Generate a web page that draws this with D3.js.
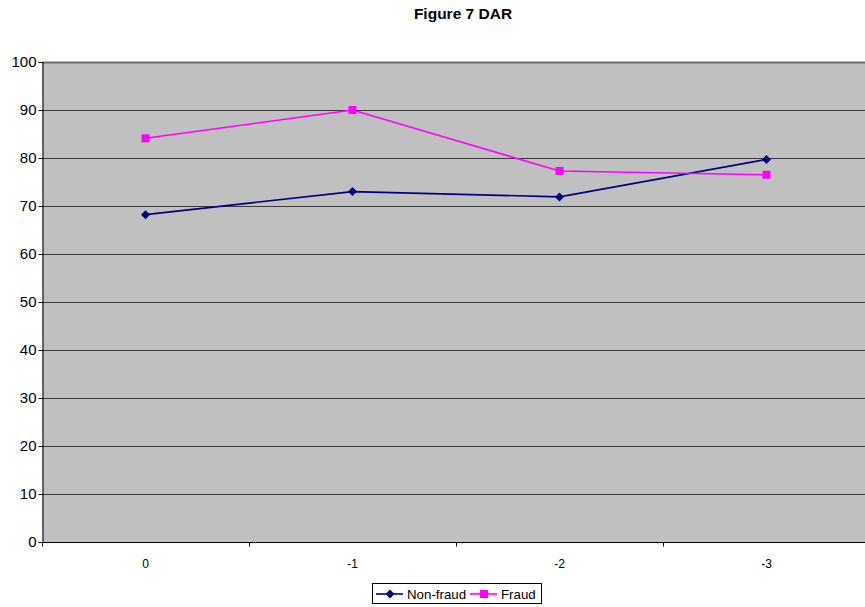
<!DOCTYPE html>
<html>
<head>
<meta charset="utf-8">
<script src="https://cdn.jsdelivr.net/npm/d3@7/dist/d3.min.js"></script>
<style>
  html, body { margin: 0; padding: 0; background: #fff; }
  svg { display: block; font-family: "Liberation Sans", Arial, sans-serif; }
  svg text { font-family: "Liberation Sans", Arial, sans-serif; }
</style>
</head>
<body>
<svg id="chart" width="865" height="607"></svg>
<script>
// Years relative to the fraud year
const categories = ["0", "-1", "-2", "-3"];
const nonFraud = [68.2, 73.0, 71.9, 79.7];
const fraud = [84.1, 90.0, 77.3, 76.5];
const yTicks = [0, 10, 20, 30, 40, 50, 60, 70, 80, 90, 100];
const seriesNames = ["Non-fraud", "Fraud"];

const svg = d3.select("#chart");
const plot = { left: 42, top: 62, right: 870, bottom: 542 };

const x = d3.scaleBand().domain(categories).range([plot.left, plot.right]);
const y = d3.scaleLinear().domain([0, 100]).range([plot.bottom, plot.top]);

// Title
svg.append("text")
  .attr("x", 463).attr("y", 19)
  .attr("text-anchor", "middle")
  .attr("font-size", 15.5).attr("font-weight", "bold")
  .text("Figure 7 DAR");

// Plot background
svg.append("rect")
  .attr("x", plot.left).attr("y", plot.top)
  .attr("width", plot.right - plot.left).attr("height", plot.bottom - plot.top)
  .attr("fill", "#c0c0c0");

// Horizontal gridlines
svg.append("g").selectAll("line").data(yTicks.filter(d => d > 0)).join("line")
  .attr("x1", plot.left).attr("x2", plot.right)
  .attr("y1", d => Math.round(y(d)) + 0.5).attr("y2", d => Math.round(y(d)) + 0.5)
  .attr("stroke", d => d === 100 ? "#6e6e6e" : "#3a3a3a")
  .attr("stroke-width", d => d === 100 ? 2 : 1);

// Y axis
const yAxis = svg.append("g")
  .attr("transform", `translate(${plot.left + 0.5},0)`)
  .call(d3.axisLeft(y).tickValues(yTicks).tickSize(4).tickPadding(2));
yAxis.attr("font-family", null);
yAxis.select(".domain").attr("stroke", "#000");
yAxis.selectAll(".tick line").attr("stroke", "#000");
yAxis.selectAll(".tick text").attr("font-size", 15).attr("fill", "#000");

// X axis: ticks fall between categories
const xAxisG = svg.append("g").attr("transform", `translate(0,${plot.bottom + 0.5})`);
xAxisG.append("line")
  .attr("x1", plot.left).attr("x2", plot.right)
  .attr("stroke", "#000");
const boundaries = categories.map(c => x(c)).concat([plot.right]);
xAxisG.selectAll("line.tk").data(boundaries).join("line")
  .attr("class", "tk")
  .attr("x1", d => Math.round(d) + 0.5).attr("x2", d => Math.round(d) + 0.5)
  .attr("y1", 0).attr("y2", 4)
  .attr("stroke", "#000");
xAxisG.selectAll("text").data(categories).join("text")
  .attr("x", d => x(d) + x.bandwidth() / 2)
  .attr("y", 25)
  .attr("text-anchor", "middle")
  .attr("font-size", 12)
  .text(d => d);

const cx = d => x(d) + x.bandwidth() / 2;
const line = d3.line().x(d => cx(d.cat)).y(d => y(d.v));

const nfData = categories.map((c, i) => ({ cat: c, v: nonFraud[i] }));
const fData = categories.map((c, i) => ({ cat: c, v: fraud[i] }));

const diamondPath = "M0,-4.5L4.5,0L0,4.5L-4.5,0Z";

// Non-fraud series
svg.append("path").datum(nfData)
  .attr("d", line).attr("fill", "none")
  .attr("stroke", "#000080").attr("stroke-width", 1.6);
svg.append("g").selectAll("path").data(nfData).join("path")
  .attr("d", diamondPath)
  .attr("transform", d => `translate(${cx(d.cat)},${y(d.v)})`)
  .attr("fill", "#000080");

// Fraud series
svg.append("path").datum(fData)
  .attr("d", line).attr("fill", "none")
  .attr("stroke", "#ff00ff").attr("stroke-width", 1.6);
svg.append("g").selectAll("rect").data(fData).join("rect")
  .attr("x", d => cx(d.cat) - 4).attr("y", d => y(d.v) - 4)
  .attr("width", 8).attr("height", 8)
  .attr("fill", "#ff00ff");

// Legend
const lg = svg.append("g");
lg.append("rect")
  .attr("x", 372.5).attr("y", 583.5).attr("width", 169).attr("height", 20)
  .attr("fill", "#fff").attr("stroke", "#000");
const items = [
  { name: seriesNames[0], color: "#000080", x0: 376, marker: "diamond" },
  { name: seriesNames[1], color: "#ff00ff", x0: 470, marker: "square" }
];
items.forEach(it => {
  lg.append("line")
    .attr("x1", it.x0).attr("x2", it.x0 + 27)
    .attr("y1", 594).attr("y2", 594)
    .attr("stroke", it.color).attr("stroke-width", 1.6);
  if (it.marker === "diamond") {
    lg.append("path").attr("d", diamondPath)
      .attr("transform", `translate(${it.x0 + 14},594)`)
      .attr("fill", it.color);
  } else {
    lg.append("rect")
      .attr("x", it.x0 + 10).attr("y", 590).attr("width", 8).attr("height", 8)
      .attr("fill", it.color);
  }
  lg.append("text")
    .attr("x", it.x0 + 31).attr("y", 599)
    .attr("font-size", 13.3)
    .text(it.name);
});
</script>
</body>
</html>
